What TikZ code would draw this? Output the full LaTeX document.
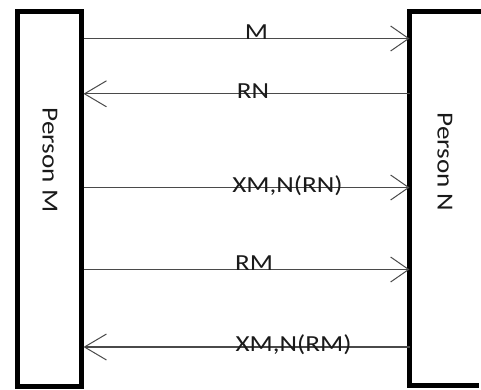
\documentclass[tikz,border=0pt]{standalone}
\usepackage{fontspec}
\setmainfont{Carlito}
\usetikzlibrary{arrows.meta}
\definecolor{linegray}{HTML}{4A4A4A}
\definecolor{textgray}{HTML}{1A1A1A}
\tikzset{
  box/.style={draw=black, line width=5pt, inner sep=0pt},
  msgr/.style={draw=linegray, line width=1.1pt, -{Straight Barb[length=18pt,width=25pt,line width=1pt]}},
  msgl/.style={draw=linegray, line width=1.1pt, -{Straight Barb[length=22pt,width=26pt,line width=1pt]}},
  lbl/.style={text=textgray, inner sep=0pt, anchor=base, font=\fontsize{23}{28}\selectfont},
  who/.style={text=textgray, inner sep=0pt, rotate=-90, font=\fontsize{23}{28}\selectfont}
}
\newcommand{\wide}[1]{\scalebox{1.18}[1]{#1}}
\begin{document}
\begin{tikzpicture}[x=1pt,y=-1pt]
\useasboundingbox (0,0) rectangle (481,389);
% left box
\node[box, minimum width=63.5pt, minimum height=375pt] (pm) at (49.25,198.5) {};
\node[who] (pmlabel) at (50,160) {\wide{Person M}};
% right box (partly cut off by the picture's edge)
\node[inner sep=0pt, outer sep=0pt, minimum width=70pt, minimum height=374.5pt] (pn) at (444.5,198.25) {};
\draw[black, line width=5pt] ([xshift=3pt]pn.north east) -- (pn.north west) -- (pn.south west) -- ([xshift=-1pt]pn.south east);
\node[who] (pnlabel) at (445,162) {\wide{Person N}};
% messages
\coordinate (a1) at (83.5,38.5);  \coordinate (b1) at (407,38.5);
\coordinate (a2) at (83.5,93.8);  \coordinate (b2) at (407,93.8);
\coordinate (a3) at (83.5,187.5); \coordinate (b3) at (407,187.5);
\coordinate (a4) at (83.5,269.5); \coordinate (b4) at (407,269.5);
\coordinate (a5) at (83.5,347);   \coordinate (b5) at (407,347);
\draw[msgr] (pm.east |- a1) -- (pn.west |- b1);
\draw[msgl] (pn.west |- b2) -- (pm.east |- a2);
\draw[msgr] (pm.east |- a3) -- (pn.west |- b3);
\draw[msgr] (pm.east |- a4) -- (pn.west |- b4);
\draw[msgl] (pn.west |- b5) -- (pm.east |- a5);
% labels
\node[lbl] (l1) at (256.5,39) {\wide{M}};
\node[lbl] (l2) at (253,98) {\wide{RN}};
\node[lbl] (l3) at (287.5,192) {\wide{XM,N(RN)}};
\node[lbl] (l4) at (254,270) {\wide{RM}};
\node[lbl] (l5) at (293.5,351) {\wide{XM,N(RM)}};
\end{tikzpicture}
\end{document}
